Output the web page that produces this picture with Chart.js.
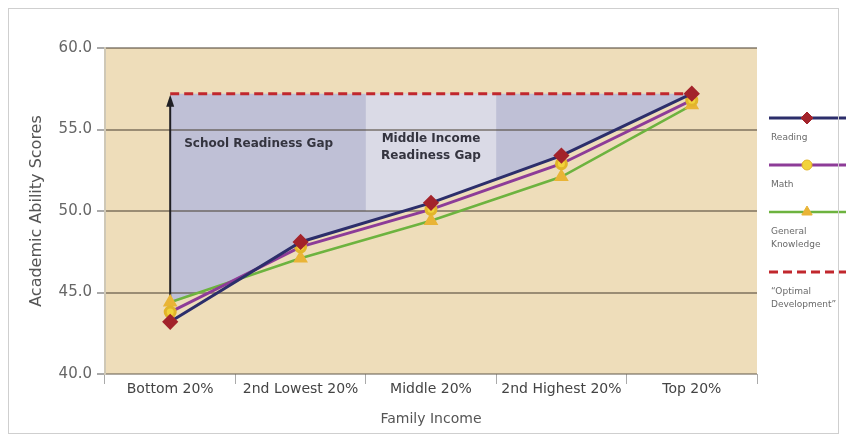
<!DOCTYPE html>
<html>
<head>
<meta charset="utf-8">
<script src="https://cdn.jsdelivr.net/npm/chart.js@4.4.1/dist/chart.umd.min.js"></script>
<style>
  body { margin: 0; background: #fff; }
  #wrap { position: relative; width: 846px; height: 441px; }
  #frame { position: absolute; left: 8px; top: 8px; width: 829px; height: 424px; border: 1px solid #cfcfcf; pointer-events: none; }
</style>
</head>
<body>
<div id="wrap"><canvas id="chart"></canvas><div id="frame"></div></div>
<script>
const incomeGroups = ['Bottom 20%', '2nd Lowest 20%', 'Middle 20%', '2nd Highest 20%', 'Top 20%'];
const reading = [43.2, 48.1, 50.5, 53.4, 57.2];
const math = [43.8, 47.8, 50.1, 52.9, 56.8];
const generalKnowledge = [44.4, 47.1, 49.4, 52.1, 56.5];
const optimal = [57.2, 57.2, 57.2, 57.2, 57.2];
const yTicks = [40, 45, 50, 55, 60];
const middleGapFloor = 50;

const FONT = '"DejaVu Sans", sans-serif';
const TAN = '#EEDDBA';
const GAP_BLUE = '#BFC0D6';
const MID_BAND = '#DADAE6';

// shaded gap (above every score line, under the optimal line) + middle income band
const gapShading = {
    id: 'gapShading',
    beforeDraw(chart) {
        const { ctx, chartArea: a } = chart;
        ctx.save();
        ctx.fillStyle = TAN;
        ctx.fillRect(a.left, a.top, a.width, a.height);

        const opt = chart.getDatasetMeta(3).data;
        const x0 = opt[0].x, x1 = opt[opt.length - 1].x;
        [0, 1, 2].forEach(i => {
            const pts = chart.getDatasetMeta(i).data;
            ctx.beginPath();
            ctx.moveTo(x0, a.top);
            pts.forEach(p => ctx.lineTo(p.x, p.y));
            ctx.lineTo(x1, a.top);
            ctx.closePath();
            ctx.clip();
        });
        ctx.beginPath();
        opt.forEach((p, i) => i ? ctx.lineTo(p.x, p.y) : ctx.moveTo(p.x, p.y));
        ctx.lineTo(x1, a.bottom);
        ctx.lineTo(x0, a.bottom);
        ctx.closePath();
        ctx.fillStyle = GAP_BLUE;
        ctx.fill();

        const x = chart.scales.x, y = chart.scales.y;
        const bl = x.getPixelForValue(1.5);
        const br = x.getPixelForValue(2.5);
        const bt = y.getPixelForValue(optimal[2]);
        const bb = y.getPixelForValue(middleGapFloor);
        ctx.fillStyle = MID_BAND;
        ctx.fillRect(bl, bt, br - bl, bb - bt);
        ctx.restore();
    },
    beforeDatasetsDraw(chart) {
        const { ctx } = chart;
        const x = chart.scales.x, y = chart.scales.y;
        const ax = x.getPixelForValue(0);
        const yTop = y.getPixelForValue(optimal[0]);
        const yBot = y.getPixelForValue(Math.max(reading[0], math[0], generalKnowledge[0]));
        ctx.save();
        ctx.strokeStyle = '#1f1f24';
        ctx.fillStyle = '#1f1f24';
        ctx.lineWidth = 2;
        ctx.beginPath();
        ctx.moveTo(ax, yBot);
        ctx.lineTo(ax, yTop + 8);
        ctx.stroke();
        ctx.beginPath();
        ctx.moveTo(ax, yTop + 1);
        ctx.lineTo(ax - 4, yTop + 13);
        ctx.lineTo(ax + 4, yTop + 13);
        ctx.closePath();
        ctx.fill();

        ctx.fillStyle = '#34343f';
        ctx.font = 'bold 12px ' + FONT;
        ctx.textBaseline = 'middle';
        ctx.textAlign = 'left';
        ctx.fillText('School Readiness Gap', ax + 14, y.getPixelForValue(54.1));
        ctx.textAlign = 'center';
        const mx = x.getPixelForValue(2);
        ctx.fillText('Middle Income', mx, y.getPixelForValue(54.4));
        ctx.fillText('Readiness Gap', mx, y.getPixelForValue(53.4));
        ctx.restore();
    },
    afterDraw(chart) {
        const { ctx, chartArea: a } = chart;
        const lx0 = a.right + 12, lx1 = chart.width, mx = lx0 + 38;
        let ly = 118;
        ctx.save();
        chart.data.datasets.forEach(ds => {
            ctx.strokeStyle = ds.borderColor;
            ctx.lineWidth = ds.borderWidth;
            ctx.setLineDash(ds.borderDash || []);
            ctx.beginPath();
            ctx.moveTo(lx0, ly);
            ctx.lineTo(lx1, ly);
            ctx.stroke();
            ctx.setLineDash([]);
            if (ds.pointRadius > 0) {
                ctx.fillStyle = ds.pointBackgroundColor;
                ctx.strokeStyle = ds.pointBorderColor;
                ctx.lineWidth = 1;
                Chart.helpers.drawPoint(ctx, { pointStyle: ds.pointStyle, radius: ds.pointRadius, rotation: 0, borderWidth: 1 }, mx, ly);
            }
            ctx.fillStyle = '#6a6a6a';
            ctx.font = '9px ' + FONT;
            ctx.textAlign = 'left';
            ctx.textBaseline = 'middle';
            let ty = ly + 20;
            ds.label.split(' ').forEach((w, i) => {
                if (i) ty += 13;
                ctx.fillText(w, lx0 + 2, ty);
            });
            ly = ty + 27;
        });
        ctx.restore();
    }
};

new Chart(document.getElementById('chart'), {
    type: 'line',
    data: {
        labels: incomeGroups,
        datasets: [
            {
                label: 'Reading',
                data: reading,
                borderColor: '#2C2E6B',
                borderWidth: 3,
                pointStyle: 'rectRot',
                pointRadius: 6,
                pointBackgroundColor: '#A3232B',
                pointBorderColor: '#A3232B'
            },
            {
                label: 'Math',
                data: math,
                borderColor: '#8D3C98',
                borderWidth: 3,
                pointStyle: 'circle',
                pointRadius: 5,
                pointBackgroundColor: '#F2D33B',
                pointBorderColor: '#E2B52A'
            },
            {
                label: 'General Knowledge',
                data: generalKnowledge,
                borderColor: '#6DB33F',
                borderWidth: 2.5,
                pointStyle: 'triangle',
                pointRadius: 6,
                pointBackgroundColor: '#E9B436',
                pointBorderColor: '#E9B436'
            },
            {
                label: '\u201COptimal Development\u201D',
                data: optimal,
                borderColor: '#C1272D',
                borderWidth: 3,
                borderDash: [9, 5],
                pointRadius: 0
            }
        ]
    },
    options: {
        responsive: true,
        maintainAspectRatio: false,
        animation: false,
        layout: { padding: { top: 48, right: 89, left: 0, bottom: 0 } },
        plugins: { legend: { display: false }, tooltip: { enabled: false } },
        elements: { line: { tension: 0 } },
        scales: {
            x: {
                offset: true,
                afterFit: s => { s.height = 67; },
                grid: { offset: true, drawOnChartArea: false, tickLength: 10, color: '#aaa', lineWidth: 1 },
                border: { display: false },
                ticks: { color: '#444', font: { family: FONT, size: 14 }, padding: -3, maxRotation: 0, autoSkip: false },
                title: { display: true, text: 'Family Income', color: '#555', font: { family: FONT, size: 14 }, padding: { top: 14, bottom: 13 } }
            },
            y: {
                min: 40,
                max: 60,
                afterFit: s => { s.width = 105; },
                afterBuildTicks: s => { s.ticks = yTicks.map(v => ({ value: v })); },
                grid: {
                    color: ctx => ctx.tick && ctx.tick.value === 40 ? 'rgba(110,100,85,0.55)' : 'rgba(70,60,45,0.5)',
                    lineWidth: 2,
                    tickLength: 8,
                    tickColor: '#aaa'
                },
                border: { display: true, color: '#cfc8b6', width: 2 },
                ticks: { color: '#666', font: { family: FONT, size: 15 }, padding: 5, callback: v => v.toFixed(1) },
                title: { display: true, text: 'Academic Ability Scores', color: '#555', font: { family: FONT, size: 16 }, padding: { top: 27, bottom: 0 } }
            }
        }
    },
    plugins: [gapShading]
});
</script>
</body>
</html>
